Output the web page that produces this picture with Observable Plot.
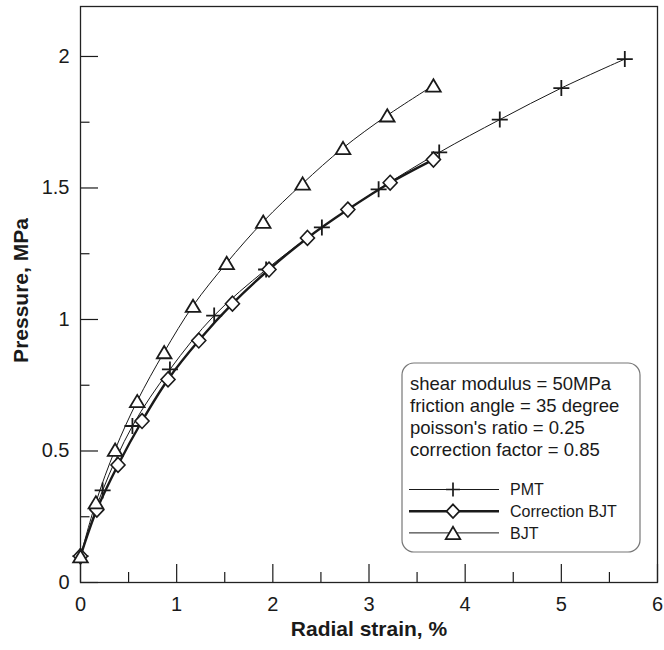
<!DOCTYPE html>
<html>
<head>
<meta charset="utf-8">
<script src="https://cdn.jsdelivr.net/npm/d3@7"></script>
<script src="https://cdn.jsdelivr.net/npm/@observablehq/plot@0.6"></script>
<style>
  body { margin: 0; background: #fff; }
  #chart { width: 664px; height: 650px; }
</style>
</head>
<body>
<div id="chart"></div>
<script>
// ---- data ----
const pmtStrain   = [0, 0.23, 0.54, 0.93, 1.39, 1.93, 2.51, 3.10, 3.73, 4.36, 5.00, 5.66];
const pmtPressure = [0.10, 0.35, 0.595, 0.81, 1.015, 1.19, 1.35, 1.495, 1.635, 1.76, 1.88, 1.99];

const corrStrain   = [0, 0.17, 0.39, 0.64, 0.91, 1.23, 1.58, 1.96, 2.36, 2.78, 3.22, 3.67];
const corrPressure = [0.10, 0.277, 0.447, 0.614, 0.772, 0.92, 1.06, 1.19, 1.31, 1.418, 1.52, 1.608];

const bjtStrain   = [0, 0.16, 0.36, 0.59, 0.87, 1.17, 1.52, 1.90, 2.31, 2.73, 3.19, 3.67];
const bjtPressure = [0.10, 0.305, 0.505, 0.69, 0.876, 1.052, 1.215, 1.372, 1.517, 1.652, 1.776, 1.89];

const xTicks = [0, 1, 2, 3, 4, 5, 6];
const xMinorTicks = [0.5, 1.5, 2.5, 3.5, 4.5, 5.5];
const yTicks = [0, 0.5, 1, 1.5, 2];
const yMinorTicks = [0.25, 0.75, 1.25, 1.75];

const seriesNames = ["PMT", "Correction BJT", "BJT"];
const noteLines = [
  "shear modulus = 50MPa",
  "friction angle = 35 degree",
  "poisson's ratio = 0.25",
  "correction factor = 0.85"
];
const xLabel = "Radial strain, %";
const yLabel = "Pressure, MPa";

// ---- helpers ----
function rows(xs, ys, name) { return xs.map((x, i) => ({x, y: ys[i], series: name})); }
const pmt = rows(pmtStrain, pmtPressure, seriesNames[0]);
const corr = rows(corrStrain, corrPressure, seriesNames[1]);
const bjt = rows(bjtStrain, bjtPressure, seriesNames[2]);

// custom symbols: half-extent = r
const symPlus = { draw(ctx, size) { const r = Math.sqrt(size / Math.PI);
  ctx.moveTo(-r, 0); ctx.lineTo(r, 0); ctx.moveTo(0, -r); ctx.lineTo(0, r); } };
const symDiamond = { draw(ctx, size) { const r = Math.sqrt(size / Math.PI);
  ctx.moveTo(0, -r * 1.06); ctx.lineTo(r, 0); ctx.lineTo(0, r * 1.06); ctx.lineTo(-r, 0); ctx.closePath(); } };
const symTriangle = { draw(ctx, size) { const r = Math.sqrt(size / Math.PI);
  ctx.moveTo(0, -r * 0.84); ctx.lineTo(r, r * 0.84); ctx.lineTo(-r, r * 0.84); ctx.closePath(); } };

const W = 664, H = 650, mL = 80, mR = 7, mT = 6, mB = 68;
const fw = W - mL - mR, fh = H - mT - mB;
const ink = "#1a1a1a";
const font = "'Liberation Sans', Arial, Helvetica, sans-serif";

const plot = Plot.plot({
  width: W, height: H,
  marginLeft: mL, marginRight: mR, marginTop: mT, marginBottom: mB,
  x: {domain: [0, 6]},
  y: {domain: [0, 2.19]},
  style: {fontFamily: font, fontSize: "20px", color: ink, background: "#fff"},
  marks: [
    Plot.tickY(yTicks, {insetRight: fw - 18, stroke: ink, strokeWidth: 1.2}),
    Plot.tickY(yMinorTicks, {insetRight: fw - 9.5, stroke: ink, strokeWidth: 1.2}),
    Plot.tickX(xTicks, {insetTop: fh - 18, stroke: ink, strokeWidth: 1.2}),
    Plot.tickX(xMinorTicks, {insetTop: fh - 10, stroke: ink, strokeWidth: 1.2}),
    Plot.frame({stroke: "#222", strokeWidth: 1.3}),
    Plot.axisX({ticks: xTicks, tickSize: 0, tickPadding: 14, label: null, fontSize: 20, tickFormat: d => String(d)}),
    Plot.axisY({ticks: yTicks, tickSize: 0, tickPadding: 11, label: null, fontSize: 20, tickFormat: d => String(d)}),
    Plot.line(pmt, {x: "x", y: "y", curve: "catmull-rom", stroke: ink, strokeWidth: 1}),
    Plot.line(bjt, {x: "x", y: "y", curve: "catmull-rom", stroke: ink, strokeWidth: 1}),
    Plot.line(corr, {x: "x", y: "y", curve: "catmull-rom", stroke: ink, strokeWidth: 2.4}),
    Plot.dot(pmt, {x: "x", y: "y", symbol: symPlus, r: 8, stroke: ink, strokeWidth: 1.8, fill: "none"}),
    Plot.dot(corr, {x: "x", y: "y", symbol: symDiamond, r: 7, stroke: ink, strokeWidth: 1.6, fill: "#fff"}),
    Plot.dot(bjt, {x: "x", y: "y", symbol: symTriangle, r: 7.3, stroke: ink, strokeWidth: 1.8, fill: "#fff"}),
    Plot.text([xLabel], {text: d => d, frameAnchor: "bottom", dy: 53, textAnchor: "middle", fontWeight: "bold", fontSize: 21, fill: ink}),
    Plot.text([yLabel], {text: d => d, frameAnchor: "left", dx: -59, dy: -4, rotate: -90, textAnchor: "middle", fontWeight: "bold", fontSize: 21, fill: ink})
  ]
});

document.getElementById("chart").appendChild(plot);

// ---- in-plot legend box ----
const svg = d3.select(plot);
const g = svg.append("g").attr("font-family", font).attr("fill", ink).attr("text-anchor", "start");
g.append("rect")
  .attr("x", 402).attr("y", 363).attr("width", 238).attr("height", 189)
  .attr("rx", 12).attr("ry", 12)
  .attr("fill", "#fff").attr("stroke", "#777").attr("stroke-width", 1.2);
noteLines.forEach((t, i) => {
  g.append("text").attr("x", 410).attr("y", 389.5 + i * 22.3)
    .attr("font-size", 18.5).attr("text-anchor", "start").text(t);
});
const legendSyms = [symPlus, symDiamond, symTriangle];
const legendR = [7, 6.5, 7.3];
const legendW = [1, 2.6, 1];
const legendFill = ["none", "#fff", "#fff"];
seriesNames.forEach((name, i) => {
  const y = 489.5 + i * 21.7;
  g.append("line").attr("x1", 409).attr("x2", 499).attr("y1", y).attr("y2", y)
    .attr("stroke", ink).attr("stroke-width", legendW[i]);
  g.append("path")
    .attr("transform", `translate(453,${y})`)
    .attr("d", d3.symbol(legendSyms[i], legendR[i] * legendR[i] * Math.PI)())
    .attr("fill", legendFill[i]).attr("stroke", ink).attr("stroke-width", 1.7);
  g.append("text").attr("x", 510).attr("y", y).attr("dy", "0.36em")
    .attr("font-size", 16).attr("text-anchor", "start").text(name);
});
</script>
</body>
</html>
